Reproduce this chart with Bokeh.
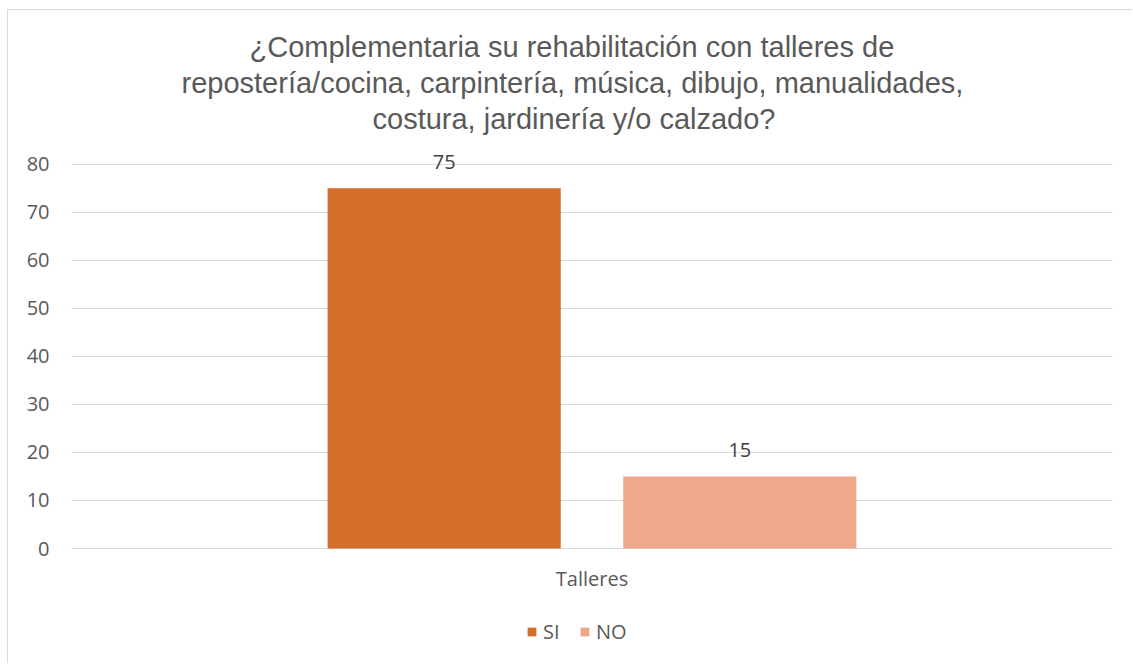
from bokeh.plotting import figure
from bokeh.models import ColumnDataSource, Range1d, Title, Legend, LegendItem, FixedTicker
from bokeh.transform import dodge
from bokeh.core.properties import value
from bokeh.embed import file_html
from bokeh.resources import INLINE

categories = ["Talleres"]
series = ["SI", "NO"]
si_values = [75]
no_values = [15]
colors = ["#D36E2B", "#F0A88A"]
y_ticks = [0, 10, 20, 30, 40, 50, 60, 70, 80]
title_lines = [
    "¿Complementaria su rehabilitación con talleres de",
    "repostería/cocina, carpintería, música, dibujo, manualidades,",
    "costura, jardinería y/o calzado?",
]
title_indent = [178, 110, 301]   # left indent of each title line (layout only)

TEXT_FONT = "Open Sans"
W, H = 1125, 654
TOP = 125            # frame top (px from canvas top)
ZERO = 538           # y = 0 position (px from canvas top)
Y_MAX = 86
px_per_unit = (ZERO - TOP) / Y_MAX
y_min = -(H - ZERO) / px_per_unit

p = figure(
    x_range=categories, y_range=Range1d(y_min, Y_MAX),
    width=W, height=H, output_backend="svg", toolbar_location=None,
    min_border_left=63, min_border_right=21, min_border_top=TOP, min_border_bottom=0,
    outline_line_color=None,
    styles={"margin-left": "7px", "margin-top": "9px",
            "border-left": "1px solid #d9d9d9", "border-top": "1px solid #d9d9d9"},
)

src = ColumnDataSource(dict(
    cat=categories, si=si_values, no=no_values,
    si_lab=[str(v) for v in si_values], no_lab=[str(v) for v in no_values],
))

off = 0.142
bw = 0.224
r_si = p.vbar(x=dodge("cat", -off, range=p.x_range), top="si", bottom=0, width=bw,
              source=src, fill_color=colors[0], line_color=None)
r_no = p.vbar(x=dodge("cat", off, range=p.x_range), top="no", bottom=0, width=bw,
              source=src, fill_color=colors[1], line_color=None)

for col, lab, o in (("si", "si_lab", -off), ("no", "no_lab", off)):
    p.text(x=dodge("cat", o, range=p.x_range), y=col, text=lab, source=src,
           text_align="center", text_baseline="bottom", y_offset=-19,
           text_font=value(TEXT_FONT), text_font_size="20px", text_color="#404040")

# category label under the baseline
p.text(x="cat", y=0, text="cat", source=src, text_align="center", text_baseline="middle",
       y_offset=30, text_font=value(TEXT_FONT), text_font_size="20px", text_color="#595959")

# axes
p.yaxis.ticker = FixedTicker(ticks=y_ticks)
p.yaxis.axis_line_color = None
p.yaxis.major_tick_line_color = None
p.yaxis.minor_tick_line_color = None
p.yaxis.major_label_standoff = 16
p.yaxis.major_label_text_font = TEXT_FONT
p.yaxis.major_label_text_font_size = "20px"
p.yaxis.major_label_text_color = "#595959"
p.xaxis.visible = False

p.xgrid.grid_line_color = None
p.ygrid.ticker = FixedTicker(ticks=y_ticks)
p.ygrid.grid_line_color = "#d9d9d9"
p.ygrid.grid_line_width = 1

# title lines (stacked above the frame; closest first)
for t, ind in reversed(list(zip(title_lines, title_indent))):
    p.add_layout(Title(text=t, align="left", text_font="Liberation Sans",
                       text_font_size="29px", text_font_style="normal",
                       text_color="#595959", standoff=2, offset=ind), "above")

legend = Legend(
    items=[LegendItem(label=series[0], renderers=[r_si]),
           LegendItem(label=series[1], renderers=[r_no])],
    orientation="horizontal", location=(455, 19),
    border_line_color=None, background_fill_alpha=0,
    glyph_width=11, glyph_height=11, label_standoff=6, spacing=16,
    label_text_font=TEXT_FONT, label_text_font_size="20px", label_text_color="#595959",
    margin=0, padding=0,
)
p.add_layout(legend)

with open("out.html", "w") as f:
    f.write(file_html(p, INLINE))
